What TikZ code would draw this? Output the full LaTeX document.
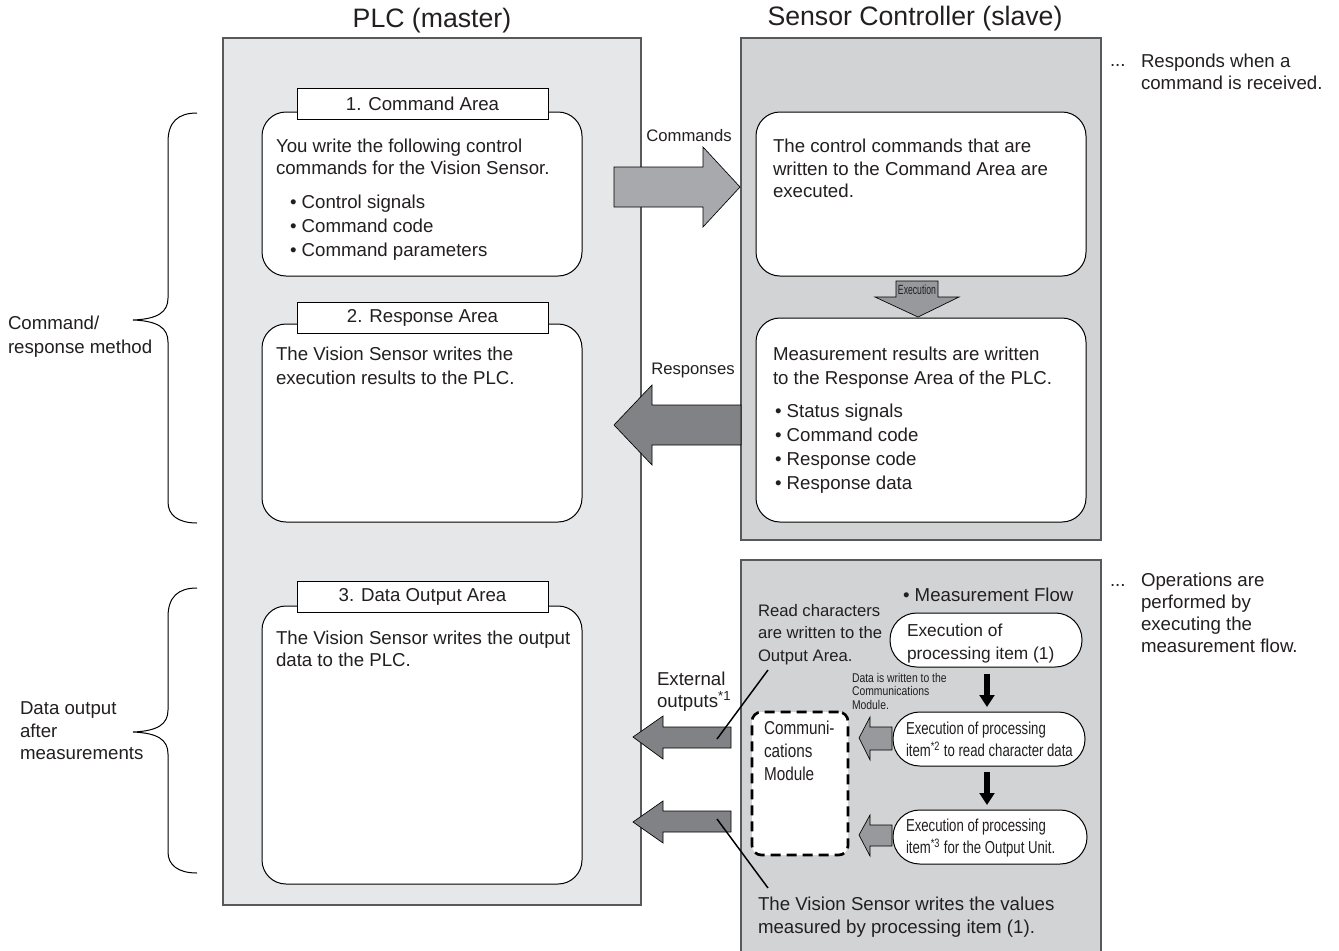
\documentclass[tikz,border=0pt]{standalone}
\usepackage{fontspec}
\usepackage{graphicx}
\setmainfont{Liberation Sans}
\newfontfamily\narrowfont[FakeStretch=0.82]{Liberation Sans}
\newfontfamily\pillfont[FakeStretch=0.76]{Liberation Sans}
\newfontfamily\tinyfont[FakeStretch=0.65]{Liberation Sans}
\usetikzlibrary{arrows.meta}
\definecolor{plcfill}{HTML}{E6E7E8}
\definecolor{scfill}{HTML}{D1D3D4}
\definecolor{arrlight}{HTML}{A7A9AC}
\definecolor{arrmid}{HTML}{97999C}
\definecolor{arrdark}{HTML}{808285}
\definecolor{framecol}{HTML}{58595B}
\definecolor{txtcol}{HTML}{231F20}
\begin{document}
\begin{tikzpicture}[x=0.75pt,y=-0.75pt,
  every node/.style={inner sep=0pt, outer sep=0pt, text=txtcol},
  txt/.style={font=\fontsize{14}{16.5}\selectfont, align=left, anchor=north west},
  bul/.style={font=\fontsize{14}{18}\selectfont, align=left, anchor=north west},
  title/.style={font=\fontsize{20}{24}\selectfont},
  panel/.style={draw=framecol, line width=1.1pt, anchor=north west},
  areabox/.style={draw=black, fill=white, rounded corners=18pt, line width=0.75pt, anchor=north west},
  hdr/.style={draw=black, fill=white, line width=0.75pt, minimum width=188.25pt, minimum height=23.25pt, font=\fontsize{14}{16}\selectfont},
  pill/.style={draw=black, fill=white, rounded corners=20pt, line width=0.75pt, anchor=north west, minimum height=40.5pt},
  blockarrow/.style={draw=black, line width=0.5pt},
  flowarrow/.style={draw=black, line width=4.5pt, -{Triangle[width=11pt,length=9pt]}},
  leader/.style={draw=black, line width=1.1pt},
  brace/.style={draw=black, line width=0.75pt}
]
\useasboundingbox (0,0) rectangle (1339,950);
\fill[white] (0,0) rectangle (1339,950);

% titles
\node[title] (plctitle) at (432,21) {PLC (master)};
\node[title] (sctitle) at (915,19) {Sensor Controller (slave)};

% panels
\node[panel, fill=plcfill, minimum width=313.5pt, minimum height=650.25pt] (plc) at (223,38) {};
\node[panel, fill=scfill, minimum width=270pt, minimum height=376.5pt] (sctop) at (741,38) {};
\node[panel, fill=scfill, minimum width=270pt, minimum height=297pt] (scbot) at (741,560) {};

% PLC areas
\node[areabox, minimum width=240pt, minimum height=123pt] (area1) at (262,112) {};
\node[hdr] (hdr1) at (422.5,103.5) {1. Command Area};
\node[txt] (area1txt) at (276,139) {You write the following control\\commands for the Vision Sensor.};
\node[bul] (area1bul) at (290,195) {• Control signals\\• Command code\\• Command parameters};

\node[areabox, minimum width=240pt, minimum height=148.5pt] (area2) at (262,324) {};
\node[hdr] (hdr2) at (422.5,317.5) {2. Response Area};
\node[bul] (area2txt) at (276,347) {The Vision Sensor writes the\\execution results to the PLC.};

\node[areabox, minimum width=240pt, minimum height=208.5pt] (area3) at (262,606) {};
\node[hdr] (hdr3) at (422.5,597) {3. Data Output Area};
\node[txt] (area3txt) at (276,631) {The Vision Sensor writes the output\\data to the PLC.};

% Sensor controller boxes
\node[areabox, minimum width=247.5pt, minimum height=123pt] (exec) at (756,112) {};
\node[txt, font=\fontsize{14}{16.9}\selectfont] (exectxt) at (773,139) {The control commands that are\\written to the Command Area are\\executed.};
\node[areabox, minimum width=247.5pt, minimum height=153pt] (meas) at (756,318) {};
\node[bul] (meastxt) at (773,347) {Measurement results are written\\to the Response Area of the PLC.};
\node[bul] (measbul) at (775,404) {• Status signals\\• Command code\\• Response code\\• Response data};

% Execution arrow
\filldraw[blockarrow, fill=arrmid] (896,281) -- (938,281) -- (938,297) -- (959,297) -- (918,317) -- (875,297) -- (896,297) -- cycle;
\node[font=\tinyfont\fontsize{10}{11}\selectfont] (execlbl) at (917,290) {Execution};

% Commands / Responses arrows
\filldraw[blockarrow, fill=arrlight] (614,167) -- (703,167) -- (703,147) -- (740,187) -- (703,227) -- (703,207) -- (614,207) -- cycle;
\node[font=\fontsize{12.5}{15}\selectfont] (cmdlbl) at (689,136) {Commands};
\filldraw[blockarrow, fill=arrdark] (741,405) -- (652,405) -- (652,385) -- (614,425) -- (652,465) -- (652,445) -- (741,445) -- cycle;
\node[font=\fontsize{12.5}{15}\selectfont] (resplbl) at (693,370) {Responses};

% Braces and their labels
\draw[brace] (197,113) .. controls (178,113) and (168,122) .. (168,142) -- (168,298) .. controls (168,312) and (158,319) .. (133,320) .. controls (158,321) and (168,328) .. (168,342) -- (168,502) .. controls (168,515) and (178,523) .. (197,523);
\node[bul] (brace1lbl) at (8,316) {Command/\\response method};
\draw[brace] (197,588) .. controls (178,588) and (168,597) .. (168,617) -- (168,710) .. controls (168,724) and (158,731) .. (133,732) .. controls (158,733) and (168,740) .. (168,754) -- (168,852) .. controls (168,865) and (178,873) .. (197,873);
\node[txt, font=\fontsize{14}{16.9}\selectfont] (brace2lbl) at (20,702) {Data output\\after\\measurements};

% right notes
\node[txt] (dots1) at (1110,54) {\vphantom{R}...};
\node[txt] (note1) at (1141,54) {Responds when a\\command is received.};
\node[txt] (dots2) at (1110,573) {\vphantom{O}...};
\node[txt] (note2) at (1141,573) {Operations are\\performed by\\executing the\\measurement flow.};

% measurement flow
\node[txt] (flowtitle) at (903,588) {• Measurement Flow};
\node[pill, minimum width=144pt] (pill1) at (890,613) {};
\node[txt, font=\fontsize{13}{17.25}\selectfont] (pill1txt) at (907,624) {Execution of\\processing item (1)};
\node[pill, minimum width=144pt] (pill2) at (893,712) {};
\node[txt, font=\pillfont\fontsize{13}{16.5}\selectfont] (pill2txt) at (906,722) {Execution of processing\\item\textsuperscript{*2} to read character data};
\node[pill, minimum width=145.5pt] (pill3) at (893,810) {};
\node[txt, font=\pillfont\fontsize{13}{16.5}\selectfont] (pill3txt) at (906,819) {Execution of processing\\item\textsuperscript{*3} for the Output Unit.};
\draw[flowarrow] (987,674) -- (987,707);
\draw[flowarrow] (987,772) -- (987,805);
\node[txt, font=\narrowfont\fontsize{9.5}{10.1}\selectfont] (datanote) at (852,673) {Data is written to the\\Communications\\Module.};

% communications module
\node[draw=black, fill=white, line width=2pt, dash pattern=on 7.5pt off 4.5pt, rounded corners=7pt, anchor=north west, minimum width=72pt, minimum height=107.25pt] (comm) at (752,712) {};
\node[txt, font=\narrowfont\fontsize{14}{17.25}\selectfont] (commtxt) at (764,721) {Communi-\\cations\\Module};

% small arrows into the module
\filldraw[blockarrow, fill=arrmid] (892,727) -- (870,727) -- (870,717) -- (859,738) -- (870,760) -- (870,750) -- (892,750) -- cycle;
\filldraw[blockarrow, fill=arrmid] (892,825) -- (870,825) -- (870,815) -- (859,835) -- (870,856) -- (870,846) -- (892,846) -- cycle;

% external outputs
\filldraw[blockarrow, fill=arrdark] (731,727) -- (663,727) -- (663,716) -- (633,737) -- (663,759) -- (663,748) -- (731,748) -- cycle;
\filldraw[blockarrow, fill=arrdark] (731,811) -- (663,811) -- (663,801) -- (633,822) -- (663,843) -- (663,832) -- (731,832) -- cycle;
\node[txt] (extlbl) at (657,672) {External\\outputs\textsuperscript{*1}};

% notes with leader lines
\node[txt, font=\fontsize{12.5}{16.9}\selectfont] (readnote) at (758,604) {Read characters\\are written to the\\Output Area.};
\node[txt, font=\fontsize{14}{17.25}\selectfont] (writenote) at (758,897) {The Vision Sensor writes the values\\measured by processing item (1).};
\coordinate (lead1a) at (717,739);
\coordinate (lead1b) at (768,670);
\coordinate (lead2a) at (717,819);
\coordinate (lead2b) at (768,888);
\draw[leader] (lead1a) -- (lead1b);
\draw[leader] (lead2a) -- (lead2b);
\end{tikzpicture}
\end{document}
